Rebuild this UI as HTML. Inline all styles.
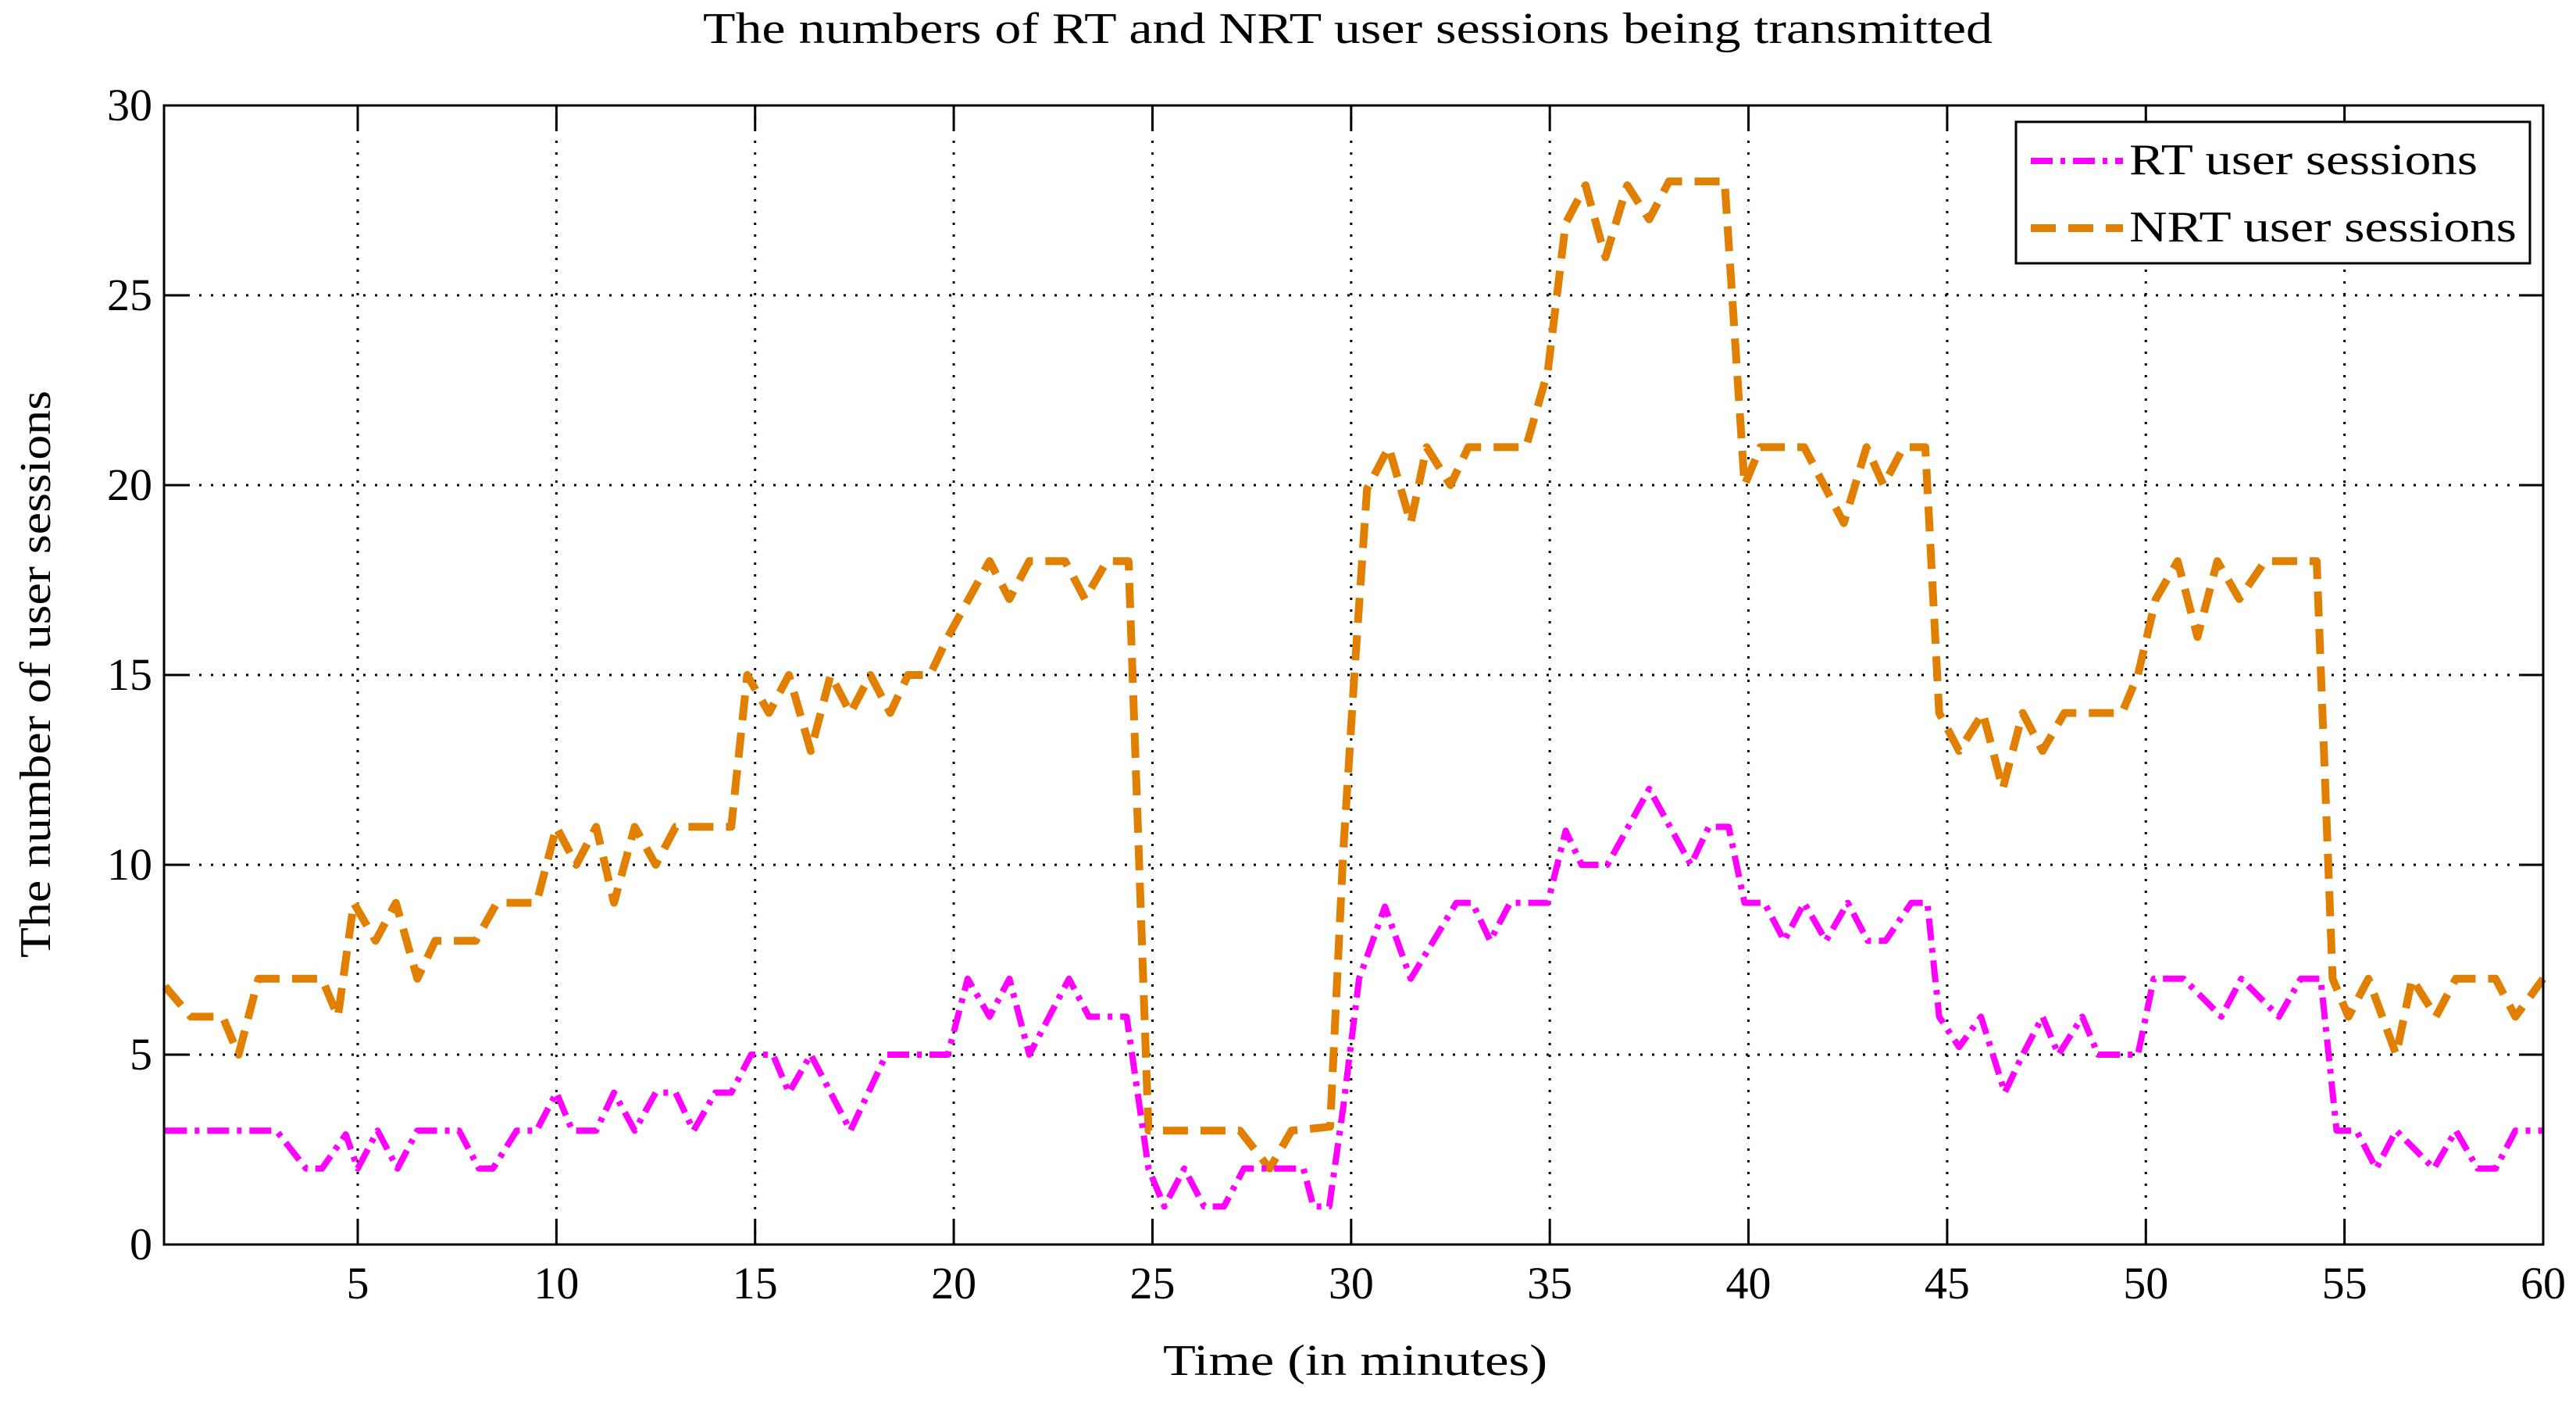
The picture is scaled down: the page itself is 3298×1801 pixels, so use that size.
<!DOCTYPE html>
<html><head><meta charset="utf-8"><style>
html,body{margin:0;padding:0;background:#fff;}
svg{display:block;font-family:"Liberation Serif",serif;}
</style></head><body>
<svg id="chart" width="3298" height="1801" viewBox="0 0 3298 1801" xmlns="http://www.w3.org/2000/svg">
<rect width="3298" height="1801" fill="#fff"/>
<text x="900" y="55" font-size="56" textLength="1651" lengthAdjust="spacingAndGlyphs">The numbers of RT and NRT user sessions being transmitted</text>
<g id="grid"></g>
<g id="ticks"></g>
<g id="series"></g>
<rect x="210" y="135" width="3046" height="1458" fill="none" stroke="#000" stroke-width="3"/>
<text x="1489" y="1760" font-size="56" textLength="492" lengthAdjust="spacingAndGlyphs">Time (in minutes)</text>
<text transform="translate(64,1226) rotate(-90)" font-size="56" textLength="726" lengthAdjust="spacingAndGlyphs">The number of user sessions</text>
<g>
<rect x="2581" y="156" width="658" height="181" fill="#fff" stroke="#000" stroke-width="3"/>
<line x1="2600" y1="206" x2="2718" y2="206" stroke="#ff00ff" stroke-width="8" stroke-dasharray="28 10 6 10"/>
<text x="2726" y="223" font-size="56" textLength="446" lengthAdjust="spacingAndGlyphs">RT user sessions</text>
<line x1="2600" y1="292" x2="2718" y2="292" stroke="#e07f00" stroke-width="10" stroke-dasharray="32 16"/>
<text x="2726" y="309" font-size="56" textLength="496" lengthAdjust="spacingAndGlyphs">NRT user sessions</text>
</g>
</svg>
<script>
const xTicks=[5,10,15,20,25,30,35,40,45,50,55,60];
const yTicks=[0,5,10,15,20,25,30];
const rtT=[0.15,2.95,3.7,4.1,4.7,5,5.5,6,6.5,7.55,8.05,8.4,9,9.5,10,10.4,11,11.45,11.97,12.5,13,13.45,14,14.4,14.9,15.45,15.85,16.4,17.4,18.3,19.85,20.35,20.9,21.4,21.9,22.4,22.9,23.4,24.35,24.9,25.3,25.8,26.3,26.8,27.3,28.8,29.05,29.45,29.8,30.2,30.85,31.5,32.65,33.05,33.5,34,34.95,35.4,35.8,36.45,37.5,38.55,39,39.5,39.9,40.4,40.9,41.4,41.95,42.5,43,43.45,44.1,44.5,44.8,45.3,45.85,46.45,46.9,47.4,47.8,48.4,48.8,49.8,50.2,50.95,51.9,52.4,53.35,53.9,54.4,54.8,55.3,55.8,56.3,57.25,57.8,58.35,58.8,59.3,60];
const rtV=[3,3,2,2,2.9,2,3,2,3,3,2,2,3,3,4,3,3,4,3,4,4,3,4,4,5,5,4,5,3,5,5,7,6,7,5,6,7,6,6,2,1,2,1,1,2,2,1,1,3.6,7,8.9,7,9,9,8,9,9,10.9,10,10,12,10,11,11,9,9,8,9,8,9,8,8,9,9,6,5.2,6,4,5,6,5,6,5,5,7,7,6,7,6,7,7,3,3,2,3,2,3,2,2,3,3];
const nrtT=[0.15,0.8,1.6,2.0,2.5,4.1,4.5,4.9,5.45,5.96,6.5,6.95,7.97,8.5,9.5,10,10.5,11,11.45,11.97,12.5,13,14.4,14.8,15.35,15.85,16.4,16.9,17.4,17.9,18.4,18.85,19.4,19.85,20.9,21.4,21.9,22.8,23.3,23.85,24.4,24.9,27.2,27.95,28.5,29.47,29.8,30.1,30.4,30.95,31.5,31.9,32.5,32.95,34.4,34.95,35.4,35.9,36.4,36.95,37.5,38,39.4,39.9,40.3,41.4,42.4,42.97,43.4,43.9,44.45,44.8,45.3,45.9,46.4,46.9,47.4,47.95,49.4,49.8,50.25,50.8,51.3,51.8,52.35,53,54.3,54.7,55.1,55.6,56.3,56.7,57.3,57.8,58.8,59.3,60];
const nrtV=[6.8,6,6,5,7,7,6,9,8,9,7,8,8,9,9,11,10,11,9,11,10,11,11,15,14,15,13,15,14,15,14,15,15,16,18,17,18,18,17,18,18,3,3,2,3,3.1,10.3,15.3,19.9,21,19,21,20,21,21,23,26.9,27.9,26,27.9,27,28,28,20,21,21,19,21,20,21,21,14,13,14,12,14,13,14,14,15,17,18,16,18,17,18,18,7,6,7,5,7,6,7,7,6,7];
const X0=210,X1=3256,Y0=1593,Y1=135,XMIN=0.125,XMAX=60,YMIN=0,YMAX=30;
function xs(t){return X0+(t-XMIN)/(XMAX-XMIN)*(X1-X0);}
function ys(v){return Y0-(v-YMIN)/(YMAX-YMIN)*(Y0-Y1);}
const NS="http://www.w3.org/2000/svg";
const grid=document.getElementById('grid'),ticks=document.getElementById('ticks'),series=document.getElementById('series');
function mk(tag,attrs,parent){const e=document.createElementNS(NS,tag);for(const k in attrs)e.setAttribute(k,attrs[k]);parent.appendChild(e);return e;}
xTicks.forEach(t=>{const x=xs(t);
 if(t<60){const g=mk('line',{x1:x,y1:Y0,x2:x,y2:Y1,stroke:'#000','stroke-width':3,'stroke-dasharray':'3 12'},grid);
 
 }
 const tk=mk('line',{x1:x,y1:Y0,x2:x,y2:Y0-30,stroke:'#000','stroke-width':3},ticks);
 
 
 const tk2=mk('line',{x1:x,y1:Y1,x2:x,y2:Y1+30,stroke:'#000','stroke-width':3},ticks);
 
 
 const l=mk('text',{x:x,y:1662,'font-size':58,'text-anchor':'middle'},ticks);l.textContent=t;
 
 });
yTicks.forEach(v=>{const y=ys(v);
 if(v>0&&v<30){const g=mk('line',{x1:X0,y1:y,x2:X1,y2:y,stroke:'#000','stroke-width':3,'stroke-dasharray':'3 12'},grid);
 
 }
 const tk=mk('line',{x1:X0,y1:y,x2:X0+30,y2:y,stroke:'#000','stroke-width':3},ticks);
 
 
 const tk2=mk('line',{x1:X1,y1:y,x2:X1-30,y2:y,stroke:'#000','stroke-width':3},ticks);
 
 
 const l=mk('text',{x:195,y:y+19,'font-size':58,'text-anchor':'end'},ticks);l.textContent=v;
 
 });
function pts(T,V){return T.map((t,i)=>xs(t).toFixed(1)+','+ys(V[i]).toFixed(1)).join(' ');}
const nrt=mk('polyline',{points:pts(nrtT,nrtV),fill:'none',stroke:'#e07f00','stroke-width':10,'stroke-dasharray':'32 16','stroke-linejoin':'round'},series);


const rt=mk('polyline',{points:pts(rtT,rtV),fill:'none',stroke:'#ff00ff','stroke-width':8,'stroke-dasharray':'28 10 6 10','stroke-linejoin':'round'},series);


</script>
</body></html>
